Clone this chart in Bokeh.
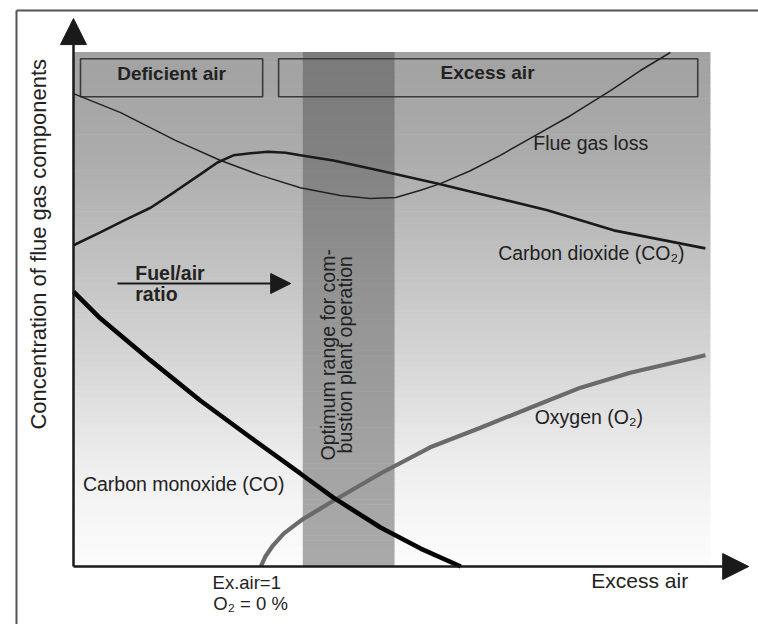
import numpy as np
from bokeh.plotting import figure
from bokeh.models import Range1d, Label, Arrow, NormalHead
from bokeh.embed import file_html
from bokeh.resources import INLINE

# ---- data (arbitrary units: excess air 0..10, concentration 0..10) ----
flue_x = [0.0, 0.74, 1.60, 2.31, 2.94, 3.56, 4.19, 4.66, 5.06, 5.45, 5.76, 6.23, 6.70, 7.17, 7.80, 8.43, 8.90, 9.37]
flue_y = [9.20, 8.83, 8.29, 7.90, 7.61, 7.37, 7.22, 7.16, 7.18, 7.32, 7.45, 7.70, 8.00, 8.33, 8.77, 9.26, 9.65, 10.0]
co2_x = [0.0, 0.42, 0.82, 1.21, 1.60, 1.99, 2.26, 2.51, 2.78, 3.05, 3.33, 3.56, 4.08, 4.82, 5.71, 6.55, 7.44, 8.48, 9.92]
co2_y = [6.25, 6.50, 6.75, 6.98, 7.30, 7.63, 7.86, 8.00, 8.04, 8.07, 8.05, 8.00, 7.90, 7.70, 7.45, 7.20, 6.93, 6.54, 6.19]
co_x = [0.0, 0.42, 1.21, 1.99, 2.78, 3.56, 4.08, 4.82, 5.45, 6.08]
co_y = [5.35, 4.83, 4.01, 3.23, 2.51, 1.81, 1.34, 0.76, 0.35, 0.0]
o2_x = [2.94, 3.01, 3.12, 3.30, 3.49, 3.61, 3.72, 4.08, 4.82, 5.60, 6.39, 7.17, 7.96, 8.74, 9.92]
o2_y = [0.0, 0.19, 0.39, 0.64, 0.82, 0.93, 1.01, 1.28, 1.81, 2.32, 2.70, 3.09, 3.48, 3.77, 4.11]

region_x = [0.0, 10.0]
region_y = [0.0, 10.0]
optimum_x = [3.60, 5.04]
deficient_x = [0.11, 2.97]
excess_x = [3.22, 9.80]
box_y = [9.14, 9.88]
ex_air_one = 2.94

FONT = "Liberation Sans"
TXT = "#222222"

p = figure(width=758, height=624, output_backend="svg", toolbar_location=None,
           x_range=Range1d(-1.146, 10.754), y_range=Range1d(-1.128, 11.012),
           x_axis_type=None, y_axis_type=None, min_border=0,
           outline_line_color=None, background_fill_color="white",
           border_fill_color="white")
p.grid.visible = False

# gradient background (style only)
stops_y = [10.0, 8.0, 5.5, 3.5, 2.0, 0.8, 0.0]
stops_g = [162, 172, 198, 220, 238, 248, 252]
band_g = [122, 130, 146, 156, 164, 168, 170]
n = 100
edges = np.linspace(region_y[0], region_y[1], n + 1)
mids = (edges[:-1] + edges[1:]) / 2
sy, sg = stops_y[::-1], stops_g[::-1]
sb = band_g[::-1]
bg_cols = ["#%02x%02x%02x" % ((int(g),) * 3) for g in np.interp(mids, sy, sg)]
bd_cols = ["#%02x%02x%02x" % ((int(g),) * 3) for g in np.interp(mids, sy, sb)]
p.quad(left=region_x[0], right=region_x[1], bottom=edges[:-1], top=edges[1:] + 0.01,
       fill_color=bg_cols, line_color=None)
p.quad(left=optimum_x[0], right=optimum_x[1], bottom=edges[:-1], top=edges[1:] + 0.01,
       fill_color=bd_cols, line_color=None)

# outer frame
p.line([-0.895, -0.895], [-1.2, 10.817], line_color="#555555", line_width=2)
p.line([-0.895, 11.0], [10.817, 10.817], line_color="#555555", line_width=2)

# boxes
for bx in (deficient_x, excess_x):
    p.quad(left=bx[0], right=bx[1], bottom=box_y[0], top=box_y[1],
           fill_color=None, line_color="#3a3a3a", line_width=1.6)

# curves
p.line(flue_x, flue_y, line_color="#222222", line_width=1.5)
p.line(co2_x, co2_y, line_color="#1a1a1a", line_width=2.6)
p.line(o2_x, o2_y, line_color="#6a6a6a", line_width=4.2)
p.line(co_x, co_y, line_color="#050505", line_width=4.6)

# axes with arrows
p.add_layout(Arrow(end=NormalHead(size=26, fill_color="#1a1a1a", line_color="#1a1a1a"),
                   x_start=0, y_start=0, x_end=0, y_end=10.66,
                   line_color="#1a1a1a", line_width=2.5))
p.add_layout(Arrow(end=NormalHead(size=26, fill_color="#1a1a1a", line_color="#1a1a1a"),
                   x_start=0, y_start=0, x_end=10.60, y_end=0,
                   line_color="#1a1a1a", line_width=2.5))
# fuel/air ratio arrow
p.add_layout(Arrow(end=NormalHead(size=20, fill_color="#1a1a1a", line_color="#1a1a1a"),
                   x_start=0.69, y_start=5.506, x_end=3.41, y_end=5.506,
                   line_color="#1a1a1a", line_width=1.8))

def lab(x, y, text, size="19.5px", bold=False, align="center", angle=0, color=TXT):
    p.add_layout(Label(x=x, y=y, text=text, text_font=FONT, text_font_size=size,
                       text_font_style="bold" if bold else "normal",
                       text_align=align, text_baseline="middle", text_color=color,
                       angle=angle, angle_units="deg"))

lab(1.54, 9.59, "Deficient air", size="19px", bold=True)
lab(6.50, 9.61, "Excess air", size="19px", bold=True)
lab(8.12, 8.23, "Flue gas loss")
lab(8.13, 6.09, "Carbon dioxide (CO₂)")
lab(8.09, 2.90, "Oxygen (O₂)")
lab(1.73, 1.60, "Carbon monoxide (CO)")
lab(8.89, -0.27, "Excess air", size="21px")
lab(ex_air_one - 0.22, -0.31, "Ex.air=1", size="18.5px")
lab(ex_air_one - 0.16, -0.72, "O₂ = 0 %", size="18.5px")
lab(0.97, 5.72, "Fuel/air", size="19.5px", bold=True, align="left")
lab(0.97, 5.31, "ratio", size="19.5px", bold=True, align="left")
lab(-0.55, 6.27, "Concentration of flue gas components", size="22px", angle=90)
lab(3.99, 4.12, "Optimum range for com-", size="19.5px", angle=90)
lab(4.27, 4.12, "bustion plant operation", size="19.5px", angle=90)

open("out.html", "w").write(file_html(p, INLINE))
